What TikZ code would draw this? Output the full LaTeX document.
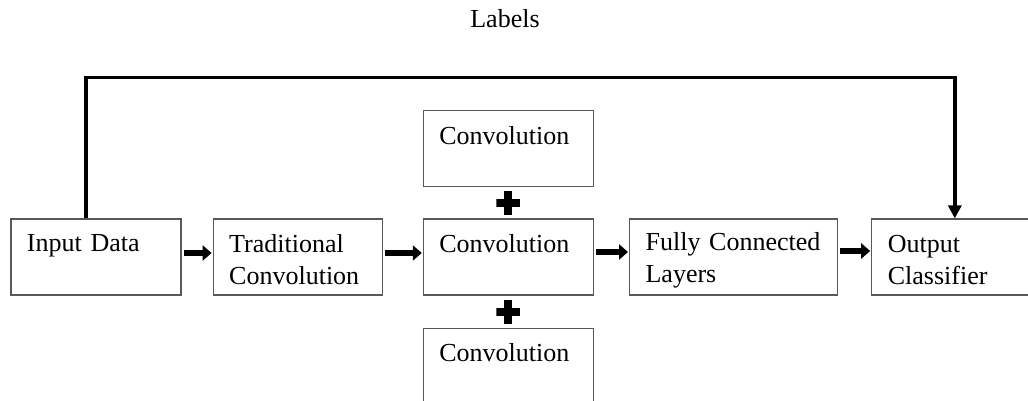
\documentclass[tikz,border=0pt]{standalone}
\usepackage{fontspec}
\setmainfont{Liberation Serif}
\usepackage{tikz}
\usetikzlibrary{arrows.meta,positioning,calc}

\begin{document}
\begin{tikzpicture}
[x=1pt,y=-1pt,
font=\fontsize{26}{32}\selectfont,
block/.style={draw=black!65,line width=1.2pt,rectangle,minimum height=76pt,inner xsep=16pt,inner ysep=0pt,align=left,text width=#1},
flow/.style={line width=6pt,-{Triangle[length=9pt,width=15pt]}},
back/.style={line width=3.5pt,-{Triangle[length=13pt,width=13pt]}},
crossmark/.style={minimum size=24pt,inner sep=0pt,
  path picture={\fill (path picture bounding box.center) ++(-12pt,-4pt) rectangle ++(24pt,8pt);
                \fill (path picture bounding box.center) ++(-4pt,-12pt) rectangle ++(8pt,24pt);}}]
\useasboundingbox (0,0) rectangle (1028,401);
\node[anchor=base] (labels) at (505,28) {Labels};
\node[block=138pt] (input) at (96,257) {Input Data\\[-14pt]\strut};
\node[block=137pt,right=31pt of input] (trad) {\rule{0pt}{24pt}Traditional\\Convolution};
\node[block=138pt,right=40pt of trad] (convmid) {Convolution\\[-14pt]\strut};
\node[block=176pt,right=35pt of convmid] (fc) {\rule{0pt}{24pt}Fully Connected\\Layers};
\node[block=128pt,right=33pt of fc] (output) {\rule{0pt}{24pt}Output\\Classifier};
\node[block=138pt,above=31pt of convmid] (convtop) {Convolution\\[-14pt]\strut};
\node[block=138pt,below=32pt of convmid] (convbot) {Convolution\\[-14pt]\strut};
\node[crossmark] (plusup) at ($(convtop.south)!0.5!(convmid.north)$) {};
\node[crossmark] (plusdown) at ($(convmid.south)!0.5!(convbot.north)$) {};
% flow arrows
\draw[flow] ([xshift=2pt,yshift=4pt]input.east) -- ([xshift=-1pt,yshift=4pt]input.east -| trad.west);
\draw[flow] ([xshift=2pt,yshift=4pt]trad.east) -- ([xshift=-1pt,yshift=4pt]trad.east -| convmid.west);
\draw[flow] ([xshift=2pt,yshift=5pt]convmid.east) -- ([xshift=-1pt,yshift=5pt]convmid.east -| fc.west);
\draw[flow] ([xshift=2pt,yshift=6pt]fc.east) -- ([xshift=-1pt,yshift=6pt]fc.east -| output.west);
% labels line
\draw[back] ([xshift=-10pt]input.north) -- ++(0,-141) -| ([xshift=3pt]output.north);
\end{tikzpicture}
\end{document}
